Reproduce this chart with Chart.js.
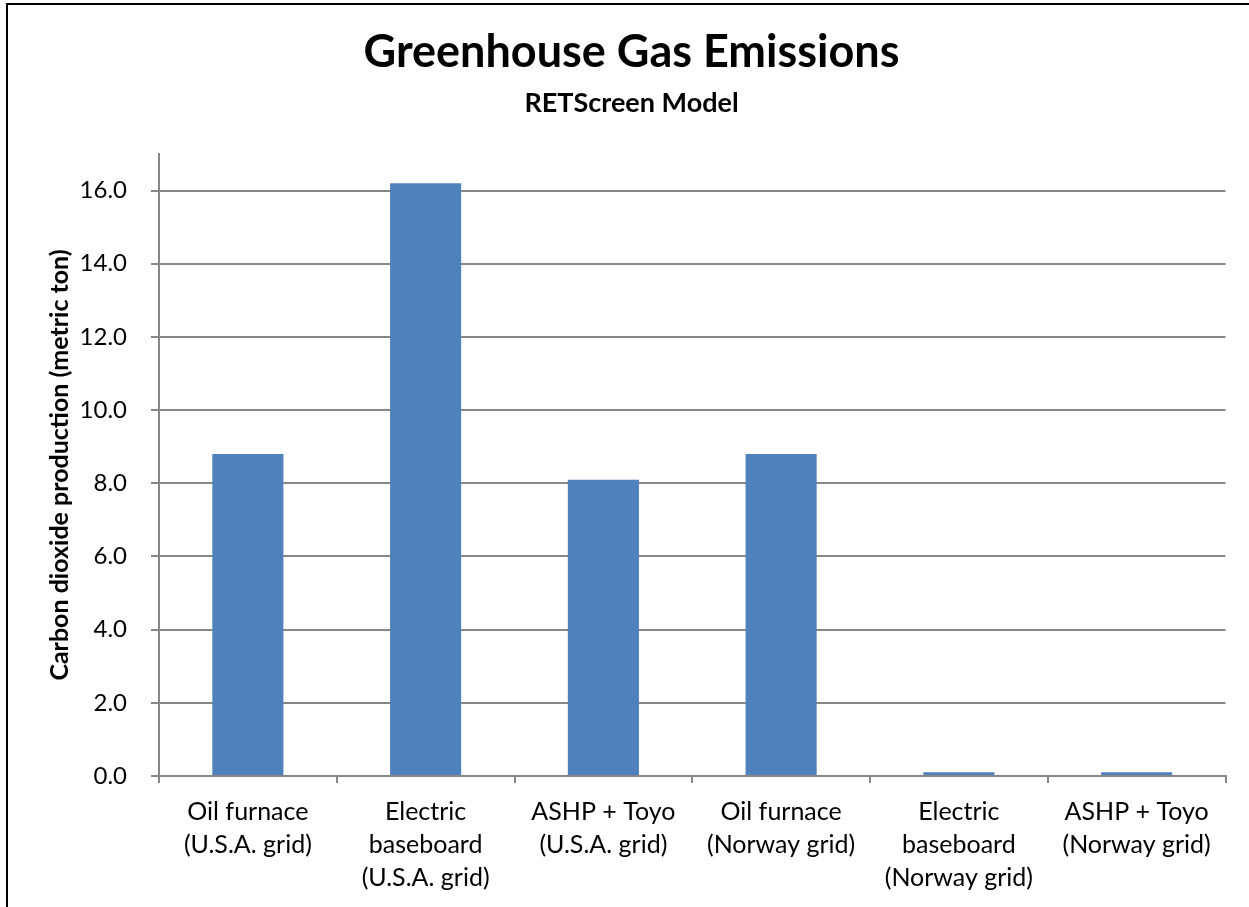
<!DOCTYPE html>
<html lang="en">
<head>
    <meta charset="UTF-8">
    <title>Greenhouse Gas Emissions</title>
    <script src="https://cdn.jsdelivr.net/npm/chart.js"></script>
    <style>
        html, body { margin: 0; padding: 0; overflow: hidden; background: #fff; }
        #frame { position: absolute; left: 6px; top: 3px; border: 2px solid #000; width: 1246px; height: 920px; }
    </style>
</head>
<body>
    <div id="frame"><canvas id="ghgChart" width="1246" height="920"></canvas></div>

    <script>
        // values
        const categories = [
            ["Oil furnace", "(U.S.A. grid)"],
            ["Electric", "baseboard", "(U.S.A. grid)"],
            ["ASHP + Toyo", "(U.S.A. grid)"],
            ["Oil furnace", "(Norway grid)"],
            ["Electric", "baseboard", "(Norway grid)"],
            ["ASHP + Toyo", "(Norway grid)"]
        ];
        const co2Tons = [8.8, 16.2, 8.1, 8.8, 0.1, 0.1];
        const yMin = 0;
        const yMax = 17;
        const yStep = 2;

        const FONT = "Lato, 'Open Sans', sans-serif";
        const AXIS_GRAY = '#878787';

        const ctx = document.getElementById('ghgChart').getContext('2d');
        new Chart(ctx, {
            type: 'bar',
            data: {
                labels: categories,
                datasets: [{
                    label: 'Carbon dioxide production',
                    data: co2Tons,
                    backgroundColor: '#4F81BD',
                    borderWidth: 0,
                    barPercentage: 0.4,
                    categoryPercentage: 1.0
                }]
            },
            options: {
                responsive: false,
                animation: false,
                devicePixelRatio: 1,
                // left/right padding keeps the titles centred on the whole frame
                layout: { padding: { left: 29.5, right: 28.5, top: 0, bottom: 0 } },
                plugins: {
                    legend: { display: false },
                    tooltip: { enabled: false },
                    title: {
                        display: true,
                        text: 'Greenhouse Gas Emissions',
                        color: '#000',
                        font: { family: FONT, size: 45, weight: 'bold', lineHeight: 1.2 },
                        padding: { top: 20, bottom: 7 }
                    },
                    subtitle: {
                        display: true,
                        text: 'RETScreen Model',
                        color: '#000',
                        font: { family: FONT, size: 27, weight: 'bold', lineHeight: 1.2 },
                        padding: { top: 1, bottom: 34.6 }
                    }
                },
                scales: {
                    x: {
                        grid: {
                            display: true,
                            drawOnChartArea: false,
                            drawTicks: true,
                            offset: true,
                            tickLength: 7,
                            color: AXIS_GRAY,
                            lineWidth: 2
                        },
                        border: { display: true, color: AXIS_GRAY, width: 2 },
                        ticks: {
                            color: '#000',
                            maxRotation: 0,
                            autoSkip: false,
                            padding: 12,
                            font: { family: FONT, size: 25, lineHeight: 1.32 }
                        },
                        afterFit: function (scale) { scale.height = 149; }
                    },
                    y: {
                        min: yMin,
                        max: yMax,
                        grid: {
                            color: AXIS_GRAY,
                            lineWidth: 2,
                            tickLength: 8
                        },
                        border: { display: true, color: AXIS_GRAY, width: 2 },
                        ticks: {
                            stepSize: yStep,
                            includeBounds: false,
                            color: '#000',
                            padding: 24,
                            font: { family: FONT, size: 24 },
                            callback: function (value) { return value.toFixed(1); }
                        },
                        title: {
                            display: true,
                            text: 'Carbon dioxide production (metric ton)',
                            color: '#000',
                            font: { family: FONT, size: 25, weight: 'bold', lineHeight: 1.2 },
                            padding: { top: 7.5, bottom: 0 }
                        },
                        afterFit: function (scale) { scale.width = 121.5; }
                    }
                }
            }
        });
    </script>
</body>
</html>
